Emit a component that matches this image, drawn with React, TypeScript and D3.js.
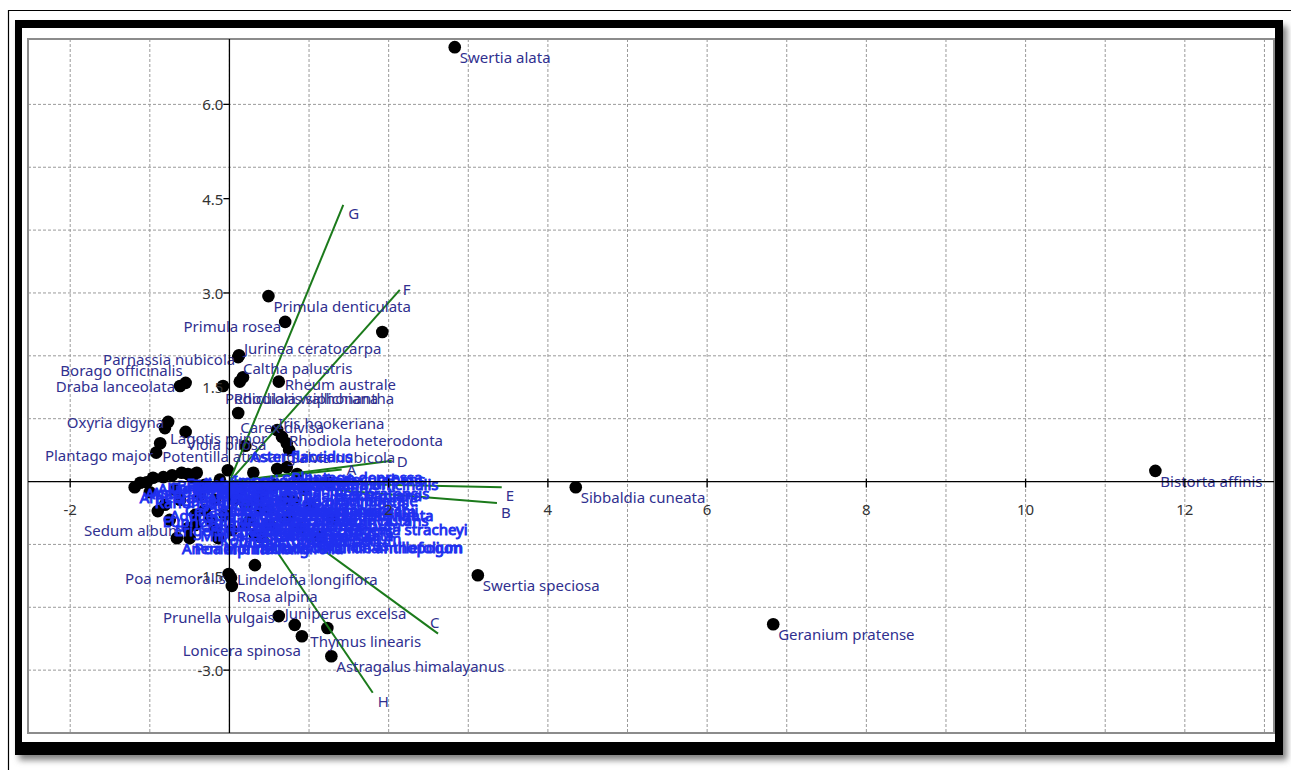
import * as d3 from "d3";

// species scores (axis 1, axis 2)
const mainSpecies: [string, number, number][] = [
  ["Swertia alata", 2.83, 6.91],
  ["Primula denticulata", 0.49, 2.95],
  ["Primula rosea", 0.7, 2.54],
  ["Jurinea ceratocarpa", 0.12, 2.01],
  ["Parnassia nubicola", 0.11, 1.98],
  ["Caltha palustris", 0.17, 1.66],
  ["Rheum australe", 0.62, 1.59],
  ["Borago officinalis", -0.55, 1.57],
  ["Draba lanceolata", -0.62, 1.52],
  ["Pedicularis siphonantha", -0.08, 1.52],
  ["Rhodiola wallichiana", 0.13, 1.59],
  ["Carex divisa", 0.11, 1.09],
  ["Iris hookeriana", 0.6, 0.82],
  ["Rhodiola heterodonta", 0.66, 0.71],
  ["Salvia nubicola", 0.72, 0.61],
  ["Oxyria digyna", -0.77, 0.95],
  ["Lagotis minor", -0.81, 0.85],
  ["Viola pilosa", -0.55, 0.79],
  ["Plantago major", -0.92, 0.46],
  ["Potentilla atrosanguinea", -0.87, 0.61],
  ["Sedum album", -0.52, -0.74],
  ["Poa nemoralis", -0.01, -1.47],
  ["Lindelofia longiflora", 0.02, -1.53],
  ["Rosa alpina", 0.03, -1.66],
  ["Prunella vulgais", 0.62, -2.14],
  ["Juniperus excelsa", 0.82, -2.28],
  ["Lonicera spinosa", 0.91, -2.46],
  ["Thymus linearis", 1.23, -2.33],
  ["Astragalus himalayanus", 1.28, -2.78],
  ["Sibbaldia cuneata", 4.35, -0.09],
  ["Swertia speciosa", 3.12, -1.49],
  ["Geranium pratense", 6.83, -2.27],
  ["Bistorta affinis", 11.63, 0.17],
];

// the crowded group near the origin
const clusterSpecies: [string, number, number][] = [
  ["Arnebia benthamii", -1.19, -0.09],
  ["Anaphalis triplinervis", -1.12, -0.02],
  ["Aster himalaicus", -1.04, -0.01],
  ["Allium humile", -0.96, 0.06],
  ["Cortia depressa", -0.83, 0.07],
  ["Bupleurum longicaule", -0.72, 0.1],
  ["Epilobium laxum", -0.6, 0.14],
  ["Euphrasia himalaica", -0.52, 0.12],
  ["Gentiana tenella", -0.47, 0.07],
  ["Geranium wallichianum", -0.41, 0.14],
  ["Heracleum candicans", -0.12, 0.03],
  ["Impatiens sulcata", -0.02, 0.18],
  ["Thalictrum alpinum", 0.3, 0.14],
  ["Stellaria decumbens", 0.6, 0.2],
  ["Plantago depressa", 0.72, 0.23],
  ["Valeriana officinalis", 0.85, 0.12],
  ["Ranunculus hirtellus", -1.0, -0.17],
  ["Gagea elegans", -0.68, -0.13],
  ["Lloydia serotina", -0.31, -0.05],
  ["Euphorbia wallichii", -0.9, -0.47],
  ["Aquilegia fragrans", -0.81, -0.37],
  ["Erigeron multiradiatus", -0.75, -0.61],
  ["Anemone rivularis", -0.66, -0.9],
  ["Poa alpina", -0.5, -0.9],
  ["Minuartia kashmirica", -0.43, -0.69],
  ["Cerastium cerastoides", -0.62, -0.29],
  ["Galium aparine", -0.43, -0.53],
  ["Polygonum alpinum", -0.37, -0.21],
  ["Pedicularis pectinata", -0.31, -0.45],
  ["Silene vulgaris", -0.24, -0.61],
  ["Kobresia royleana", -0.18, -0.77],
  ["Morina longifolia", -0.14, -0.9],
  ["Saussurea gossypiphora", -0.18, -0.29],
  ["Trifolium pratense", -0.06, -0.53],
  ["Juncus thomsonii", 0.07, -0.29],
  ["Tanacetum falconeri", 0.03, -0.77],
  ["Taraxacum officinale", 0.13, -0.13],
  ["Potentilla argyrophylla", 0.2, -0.37],
  ["Festuca valesiaca", 0.2, -0.69],
  ["Rumex acetosa", 0.26, -0.61],
  ["Ranunculus laetus", 0.32, -0.85],
  ["Cynoglossum wallichii", 0.36, -0.29],
  ["Dracocephalum nutans", 0.38, -0.45],
  ["Senecio graciliflorus", 0.41, -0.17],
  ["Saxifraga sibirica", 0.49, -0.45],
  ["Swertia petiolata", 0.51, -0.69],
  ["Rhododendron anthopogon", 0.38, -0.88],
  ["Corydalis govaniana", 0.57, -0.05],
  ["Elymus nutans", 0.7, -0.61],
  ["Carum carvi", 0.7, -0.29],
  ["Lamium album", 0.76, -0.53],
  ["Geum elatum", 0.89, -0.74],
  ["Galium boreale", 0.95, -0.13],
  ["Nepeta laevigata", 1.01, -0.37],
  ["Lobelia punctata", 0.81, -0.31],
  ["Achillea millefolium", 1.14, -0.88],
  ["Bergenia stracheyi", 1.29, -0.6],
  ["Poa pratensis", 1.25, -0.02],
  ["Aster flaccidus", 0.2, 0.57],
];

const unlabeledPoints: [number, number][] = [
  [1.92, 2.38],
  [0.75, 0.5],
  [0.32, -1.33],
];

// environmental vectors
const vectorNames = ["A", "B", "C", "D", "E", "F", "G", "H"];
const vectorX = [1.41, 3.36, 2.62, 2.04, 3.42, 2.14, 1.43, 1.8];
const vectorY = [0.19, -0.34, -2.42, 0.33, -0.09, 3.05, 4.4, -3.36];

const xTickValues = [-2, 2, 4, 6, 8, 10, 12];
const yTickValues = [6, 4.5, 3, 1.5, -1.5, -3];

// label placement (anchor, dx, dy in px) where it differs from the default
const labelPlacement: Record<string, [string, number, number]> = {
  "Primula rosea": ["end", -4, 4],
  "Jurinea ceratocarpa": ["start", 5, -7],
  "Parnassia nubicola": ["end", -3, 2],
  "Caltha palustris": ["start", 0, -9],
  "Rheum australe": ["start", 6, 2],
  "Borago officinalis": ["end", -3, -13],
  "Draba lanceolata": ["end", -5, 0],
  "Pedicularis siphonantha": ["start", 2, 12],
  "Rhodiola wallichiana": ["start", -6, 16],
  "Carex divisa": ["start", 2, 14],
  "Iris hookeriana": ["start", 1, -7],
  "Rhodiola heterodonta": ["start", 7, 3],
  "Salvia nubicola": ["start", 4, 14],
  "Oxyria digyna": ["end", -4, 0],
  "Viola pilosa": ["start", 1, 12],
  "Plantago major": ["end", -3, 2],
  "Potentilla atrosanguinea": ["start", 2, 13],
  "Sedum album": ["end", -6, 2],
  "Poa nemoralis": ["end", -3, 4],
  "Lindelofia longiflora": ["start", 6, 1],
  "Prunella vulgais": ["end", -4, 1],
  "Juniperus excelsa": ["start", -10, -12],
  "Lonicera spinosa": ["end", -1, 14],
  "Thymus linearis": ["start", -17, 13],
};
const vectorLabelOffset: Record<string, [number, number]> = {
  A: [5, -1], B: [4, 9], C: [-8, -12], D: [5, 0],
  E: [4, 8], F: [3, -1], G: [5, 8], H: [5, 8],
};

const FONT = "'Noto Sans', 'Open Sans', sans-serif";
const NAVY = "#30308f";
const BRIGHT = "#2030f0";
const GREEN = "#1b7a1b";

export default function App() {
  const W = 1291;
  const H = 770;
  const plot = { left: 28, top: 39, right: 1274, bottom: 733 };

  const x = d3.scaleLinear().domain([-2.53, 13.12]).range([plot.left, plot.right]);
  const y = d3.scaleLinear().domain([-4, 7.04]).range([plot.bottom, plot.top]);
  const x0 = x(0);
  const y0 = y(0);

  const gridX = d3.range(-2, 14);
  const gridY = d3.range(-3, 7);

  const place = (name: string) => labelPlacement[name] ?? ["start", 5, 10];

  const allPoints: [number, number][] = [
    ...mainSpecies.map((d) => [d[1], d[2]] as [number, number]),
    ...clusterSpecies.map((d) => [d[1], d[2]] as [number, number]),
    ...unlabeledPoints,
  ];

  return (
    <svg
      width={W}
      height={H}
      style={{ position: "absolute", left: 0, top: 0, background: "#fff" }}
      fontFamily={FONT}
    >
      <defs>
        <filter id="shadow" x="-5%" y="-5%" width="110%" height="110%">
          <feGaussianBlur stdDeviation="3" />
        </filter>
      </defs>

      {/* page frame */}
      <line x1={8.5} y1={10} x2={8.5} y2={H} stroke="#000" strokeWidth={1.2} />
      <line x1={8} y1={10.5} x2={W} y2={10.5} stroke="#000" strokeWidth={1.2} />
      <rect x={19} y={26} width={1268} height={734} fill="#808080" filter="url(#shadow)" />
      <rect x={15} y={20} width={1268} height={735} fill="#000" />
      <rect x={22} y={28} width={1253} height={714} fill="#fff" />

      {/* grid */}
      <g stroke="#9a9a9a" strokeWidth={1} strokeDasharray="3,2">
        {gridX.map((v) => (
          <line key={"gx" + v} x1={x(v)} x2={x(v)} y1={plot.top} y2={plot.bottom} />
        ))}
        {gridY.map((v) => (
          <line key={"gy" + v} x1={plot.left} x2={plot.right} y1={y(v)} y2={y(v)} />
        ))}
      </g>
      <rect
        x={plot.left}
        y={plot.top}
        width={plot.right - plot.left}
        height={plot.bottom - plot.top}
        fill="none"
        stroke="#8c8c8c"
        strokeWidth={2}
      />

      {/* points */}
      <g fill="#000">
        {allPoints.map((p, i) => (
          <circle key={"p" + i} cx={x(p[0])} cy={y(p[1])} r={6.3} />
        ))}
      </g>

      {/* vectors */}
      <g stroke={GREEN} strokeWidth={2}>
        {vectorNames.map((n, i) => (
          <line key={"v" + n} x1={x0} y1={y0} x2={x(vectorX[i])} y2={y(vectorY[i])} />
        ))}
      </g>
      <g fill={NAVY} fontSize={15}>
        {vectorNames.map((n, i) => {
          const o = vectorLabelOffset[n];
          return (
            <text key={"vl" + n} x={x(vectorX[i]) + o[0]} y={y(vectorY[i]) + o[1]} dominantBaseline="central">
              {n}
            </text>
          );
        })}
      </g>

      {/* species labels */}
      <g fill={NAVY} fontSize={15}>
        {mainSpecies.map(([name, vx, vy]) => {
          const [anchor, dx, dy] = place(name);
          return (
            <text
              key={"l" + name}
              x={x(vx) + dx}
              y={y(vy) + dy}
              textAnchor={anchor}
              dominantBaseline="central"
            >
              {name}
            </text>
          );
        })}
      </g>
      <g fill={BRIGHT} stroke={BRIGHT} strokeWidth={0.9} fontSize={15}>
        {clusterSpecies.map(([name, vx, vy]) => {
          const [anchor, dx, dy] = place(name);
          return (
            <text
              key={"c" + name}
              x={x(vx) + dx}
              y={y(vy) + dy}
              textAnchor={anchor}
              dominantBaseline="central"
            >
              {name}
            </text>
          );
        })}
      </g>

      {/* axes through the origin */}
      <g stroke="#000" strokeWidth={1.3}>
        <line x1={plot.left} x2={plot.right} y1={y0} y2={y0} />
        <line x1={x0} x2={x0} y1={plot.top} y2={plot.bottom} />
        {xTickValues.map((v) => (
          <line key={"xt" + v} x1={x(v)} x2={x(v)} y1={y0 - 3} y2={y0 + 6} />
        ))}
        {yTickValues.map((v) => (
          <line key={"yt" + v} x1={x0 - 6} x2={x0} y1={y(v)} y2={y(v)} />
        ))}
      </g>
      <g fill="#333" fontSize={15}>
        {xTickValues.map((v) => (
          <text key={"xl" + v} x={x(v)} y={y0 + 27} textAnchor="middle" dominantBaseline="central">
            {String(v)}
          </text>
        ))}
        {yTickValues.map((v) => (
          <text key={"yl" + v} x={x0 - 6} y={y(v)} textAnchor="end" dominantBaseline="central">
            {v.toFixed(1)}
          </text>
        ))}
      </g>
    </svg>
  );
}
